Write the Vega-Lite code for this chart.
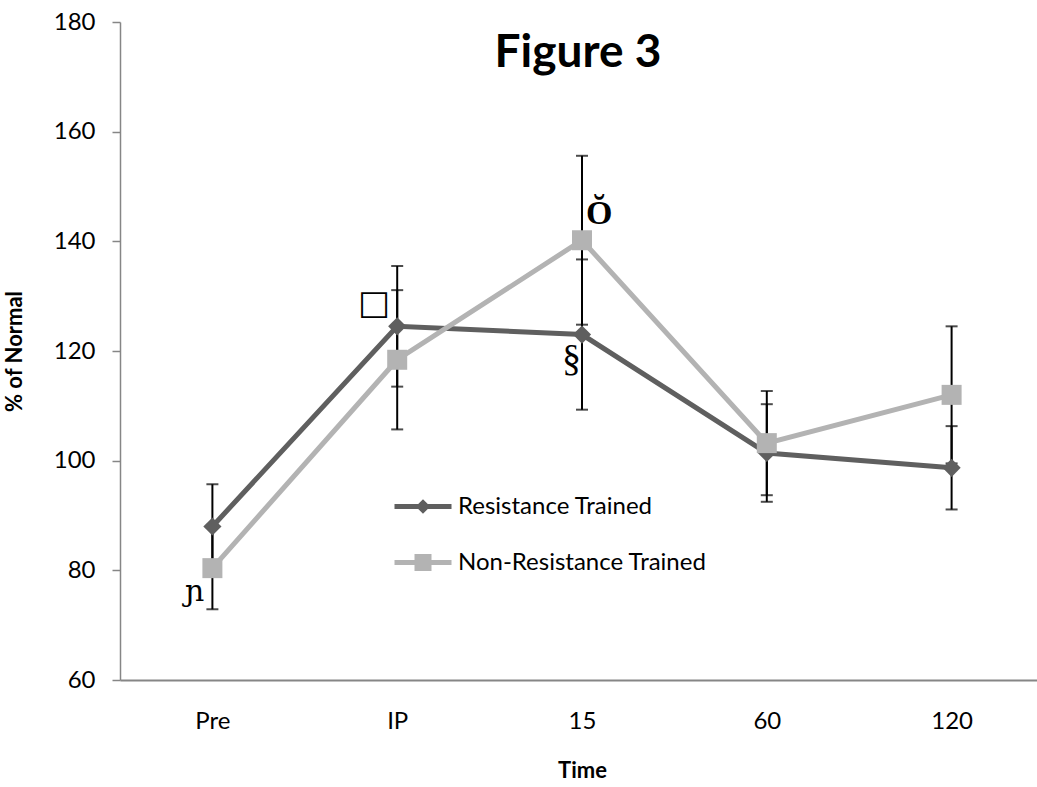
{
  "$schema": "https://vega.github.io/schema/vega-lite/v6.json",
  "autosize": {"type": "none"},
  "padding": {"left": 120, "top": 22, "right": 0, "bottom": 107},
  "width": 924,
  "height": 658,
  "background": "white",
  "config": {"view": {"stroke": null}, "font": "Lato"},
  "title": {"text": "Figure 3", "font": "Lato", "fontSize": 46, "fontWeight": "bold", "color": "black", "frame": "group", "anchor": "middle", "offset": -67, "dx": -4},
  "datasets": {
    "series": [
      {"time": "Pre", "series": "Resistance Trained", "value": 88.0, "err": 7.7},
      {"time": "IP", "series": "Resistance Trained", "value": 124.5, "err": 11.0},
      {"time": "15", "series": "Resistance Trained", "value": 123.0, "err": 13.7},
      {"time": "60", "series": "Resistance Trained", "value": 101.4, "err": 8.9},
      {"time": "120", "series": "Resistance Trained", "value": 98.7, "err": 7.6},
      {"time": "Pre", "series": "Non-Resistance Trained", "value": 80.4, "err": 7.5},
      {"time": "IP", "series": "Non-Resistance Trained", "value": 118.4, "err": 12.7},
      {"time": "15", "series": "Non-Resistance Trained", "value": 140.2, "err": 15.4},
      {"time": "60", "series": "Non-Resistance Trained", "value": 103.2, "err": 9.5},
      {"time": "120", "series": "Non-Resistance Trained", "value": 112.0, "err": 12.5}
    ],
    "notes": [
      {"time": "Pre", "value": 76.0, "label": "ɲ", "group": "left"},
      {"time": "IP", "value": 128.6, "label": "□", "group": "box"},
      {"time": "15", "value": 118.4, "label": "§", "group": "mid"},
      {"time": "15", "value": 145.0, "label": "Ŏ", "group": "right"}
    ]
  },
  "encoding": {
    "x": {
      "field": "time", "type": "ordinal", "sort": ["Pre", "IP", "15", "60", "120"],
      "scale": {"type": "point", "padding": 0.5},
      "title": "Time",
      "axis": {"ticks": false, "domainColor": "#868686", "domainWidth": 2, "labelFont": "Lato", "labelFontSize": 24, "labelColor": "black", "labelPadding": 29, "labelAngle": 0, "titleFont": "Lato", "titleFontSize": 22, "titleFontWeight": "bold", "titleColor": "black", "titlePadding": 27}
    },
    "y": {
      "field": "value", "type": "quantitative",
      "scale": {"domain": [60, 180], "nice": false, "zero": false},
      "title": "% of Normal",
      "axis": {"values": [60, 80, 100, 120, 140, 160, 180], "grid": false, "domainColor": "#868686", "domainWidth": 1.5, "tickColor": "#868686", "tickWidth": 1.5, "tickSize": 8, "labelFont": "Lato", "labelFontSize": 24, "labelColor": "black", "labelPadding": 17, "titleFont": "Lato", "titleFontSize": 22, "titleFontWeight": "bold", "titleColor": "black", "titlePadding": 27}
    }
  },
  "layer": [
    {
      "data": {"name": "series"},
      "mark": {"type": "errorbar", "ticks": true, "size": 12, "thickness": 2, "color": "black"},
      "encoding": {"yError": {"field": "err"}, "detail": {"field": "series"}}
    },
    {
      "data": {"name": "series"},
      "transform": [{"filter": "datum.series === 'Resistance Trained'"}],
      "mark": {"type": "line", "strokeWidth": 5},
      "encoding": {
        "color": {
          "field": "series", "type": "nominal",
          "scale": {"domain": ["Resistance Trained", "Non-Resistance Trained"], "range": ["#5f5f5f", "#b3b3b3"]},
          "legend": {
            "orient": "none", "legendX": 285.5, "legendY": 467, "title": null,
            "labelFont": "Lato", "labelFontSize": 24, "labelColor": "black", "labelLimit": 0,
            "symbolSize": 900, "labelOffset": 17.5, "rowPadding": 24, "padding": 0,
            "encode": {"symbols": {"update": {
              "shape": {"signal": "datum.value === 'Resistance Trained' ? 'M-1.9,0H1.9M0,-0.25L0.25,0L0,0.25L-0.25,0Z' : 'M-1.9,0H1.9M-0.4,-0.4H0.4V0.4H-0.4Z'"},
              "fill": {"signal": "datum.value === 'Resistance Trained' ? '#5f5f5f' : '#b3b3b3'"},
              "stroke": {"signal": "datum.value === 'Resistance Trained' ? '#5f5f5f' : '#b3b3b3'"},
              "strokeWidth": {"value": 5},
              "opacity": {"value": 1}
            }}}
          }
        }
      }
    },
    {
      "data": {"name": "series"},
      "transform": [{"filter": "datum.series === 'Non-Resistance Trained'"}],
      "mark": {"type": "line", "strokeWidth": 5},
      "encoding": {"color": {"field": "series", "type": "nominal"}}
    },
    {
      "data": {"name": "series"},
      "transform": [{"filter": "datum.series === 'Resistance Trained'"}],
      "mark": {"type": "point", "shape": "diamond", "filled": true, "opacity": 1, "size": 330, "color": "#5f5f5f"}
    },
    {
      "data": {"name": "series"},
      "transform": [{"filter": "datum.series === 'Non-Resistance Trained'"}],
      "mark": {"type": "point", "shape": "square", "filled": true, "opacity": 1, "size": 400, "color": "#b3b3b3"}
    },
    {
      "data": {"name": "notes"},
      "transform": [{"filter": "datum.group === 'left'"}],
      "mark": {"type": "text", "align": "right", "baseline": "middle", "dx": -8, "font": "DejaVu Serif", "fontSize": 30, "color": "black"},
      "encoding": {"text": {"field": "label"}}
    },
    {
      "data": {"name": "notes"},
      "transform": [{"filter": "datum.group === 'box'"}],
      "mark": {"type": "text", "align": "right", "baseline": "middle", "dx": -7, "font": "DejaVu Sans", "fontSize": 34, "color": "black"},
      "encoding": {"text": {"field": "label"}}
    },
    {
      "data": {"name": "notes"},
      "transform": [{"filter": "datum.group === 'mid'"}],
      "mark": {"type": "text", "align": "right", "baseline": "middle", "dx": -1, "font": "Liberation Serif", "fontSize": 38, "color": "black"},
      "encoding": {"text": {"field": "label"}}
    },
    {
      "data": {"name": "notes"},
      "transform": [{"filter": "datum.group === 'right'"}],
      "mark": {"type": "text", "align": "left", "baseline": "middle", "dx": 4, "font": "Liberation Serif", "fontSize": 34, "fontWeight": "bold", "color": "black"},
      "encoding": {"text": {"field": "label"}}
    }
  ]
}
